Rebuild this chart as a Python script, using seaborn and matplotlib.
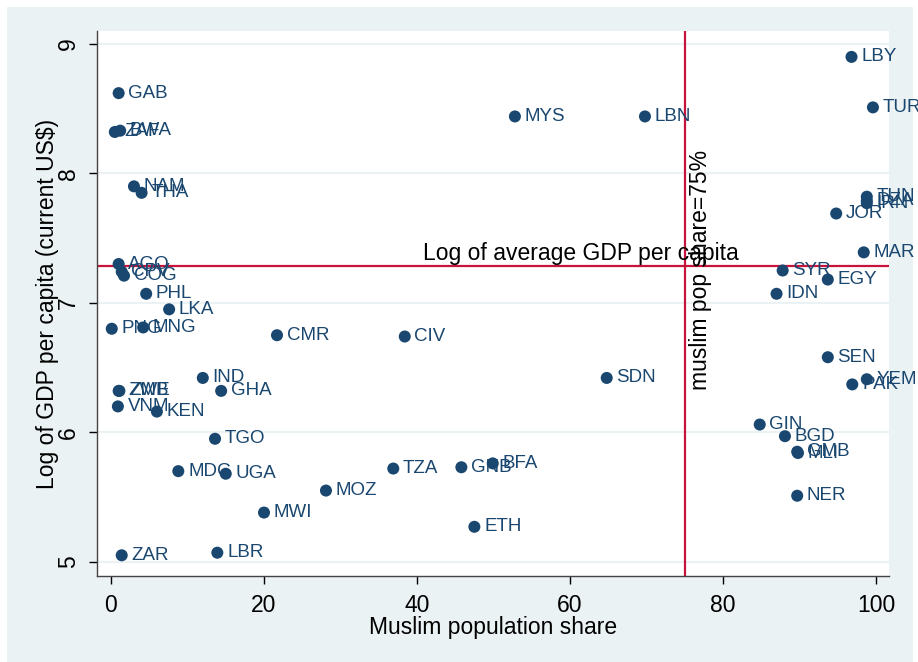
import matplotlib
matplotlib.use("Agg")
import matplotlib.pyplot as plt
import seaborn as sns
import pandas as pd
from matplotlib.patches import Rectangle

# ─────────────────────────────────────────────
# DATA
# ─────────────────────────────────────────────
countries = [
    "GAB", "ZAF", "BWA", "NAM", "THA", "AGO", "CPV", "COG", "PHL", "LKA",
    "PNG", "MNG", "CMR", "CIV", "IND", "GHA", "ZWE", "ZMB", "VNM", "KEN",
    "TGO", "MDG", "UGA", "MWI", "MOZ", "ZAR", "LBR", "TZA", "GNB", "BFA",
    "ETH", "SDN", "MYS", "LBN", "LBY", "TUR", "TUN", "DZA", "IRN", "JOR",
    "MAR", "SYR", "EGY", "IDN", "SEN", "YEM", "PAK", "GIN", "BGD", "GMB",
    "MLI", "NER",
]
muslim_share = [
    1.0, 0.5, 1.2, 3.0, 4.0, 1.0, 1.4, 1.7, 4.6, 7.6,
    0.1, 4.2, 21.7, 38.4, 12.0, 14.4, 1.0, 1.1, 0.9, 6.0,
    13.6, 8.8, 15.0, 20.0, 28.1, 1.4, 13.9, 36.9, 45.8, 49.9,
    47.5, 64.8, 52.8, 69.8, 96.8, 99.6, 98.8, 98.8, 98.8, 94.8,
    98.4, 87.8, 93.7, 87.0, 93.7, 98.8, 96.9, 84.8, 88.1, 89.7,
    89.8, 89.7,
]
log_gdp = [
    8.62, 8.32, 8.33, 7.90, 7.85, 7.30, 7.24, 7.21, 7.07, 6.95,
    6.80, 6.81, 6.75, 6.74, 6.42, 6.32, 6.32, 6.32, 6.20, 6.16,
    5.95, 5.70, 5.68, 5.38, 5.55, 5.05, 5.07, 5.72, 5.73, 5.76,
    5.27, 6.42, 8.44, 8.44, 8.90, 8.51, 7.82, 7.79, 7.77, 7.69,
    7.39, 7.25, 7.18, 7.07, 6.58, 6.41, 6.37, 6.06, 5.97, 5.85,
    5.84, 5.51,
]
x_ticks = [0, 20, 40, 60, 80, 100]
y_ticks = [5, 6, 7, 8, 9]
muslim_cutoff = 75
log_avg_gdp = 7.285

df = pd.DataFrame({"code": countries, "muslim": muslim_share, "lgdp": log_gdp})

# ─────────────────────────────────────────────
# STYLE
# ─────────────────────────────────────────────
NAVY = "#1a476f"
RED = "#c8143c"
BG = "#eaf2f3"

sns.set_theme(style="ticks")
plt.rcParams["font.family"] = ["Liberation Sans", "DejaVu Sans"]

fig = plt.figure(figsize=(9.18, 6.62), dpi=100, facecolor="white")
fig.patches.append(Rectangle((7 / 918, 0), 906 / 918, 655 / 662,
                             transform=fig.transFigure, facecolor=BG,
                             edgecolor="none", zorder=-10))
ax = fig.add_axes([97 / 918, 86 / 662, 792 / 918, 545 / 662])
ax.set_facecolor("white")

# gridlines on y ticks only
for yv in y_ticks:
    ax.axhline(yv, color=BG, lw=1.5, zorder=0)

sns.scatterplot(data=df, x="muslim", y="lgdp", ax=ax, color=NAVY,
                s=75, edgecolor="none", zorder=3, legend=False)

for code, xv, yv in zip(df["code"], df["muslim"], df["lgdp"]):
    ax.annotate(code, (xv, yv), xytext=(7, 0), textcoords="offset points",
                ha="left", va="center", fontsize=13.5, color=NAVY, zorder=4)

# reference lines
ax.axvline(muslim_cutoff, color=RED, lw=1.6, zorder=2)
ax.axhline(log_avg_gdp, color=RED, lw=1.6, zorder=2)
ax.text(40.8, log_avg_gdp + 0.01, "Log of average GDP per capita",
        ha="left", va="bottom", fontsize=16.5, color="black", zorder=5)
ax.text(muslim_cutoff + 0.5, 6.33, "muslim pop share=75%", rotation=90,
        ha="left", va="bottom", fontsize=16.5, color="black", zorder=5)

# axes
ax.set_xlim(-1.83, 101.7)
ax.set_ylim(4.89, 9.10)
ax.set_xticks(x_ticks)
ax.set_yticks(y_ticks)
ax.set_xlabel("Muslim population share", fontsize=16.5, labelpad=-1,
              color="black")
ax.set_ylabel("Log of GDP per capita (current US\\$)", fontsize=16.5,
              labelpad=-1, color="black")
ax.tick_params(axis="both", labelsize=16.5, length=6, width=1, color="black",
               direction="out", labelcolor="black")
ax.tick_params(axis="x", pad=7)
ax.tick_params(axis="y", pad=6)
for lab in ax.get_yticklabels():
    lab.set_rotation(90)
    lab.set_va("center")

for side in ["top", "right"]:
    ax.spines[side].set_visible(False)
for side in ["left", "bottom"]:
    ax.spines[side].set_color("#444444")
    ax.spines[side].set_linewidth(1)

fig.savefig("out.png", dpi=100, facecolor=fig.get_facecolor())
